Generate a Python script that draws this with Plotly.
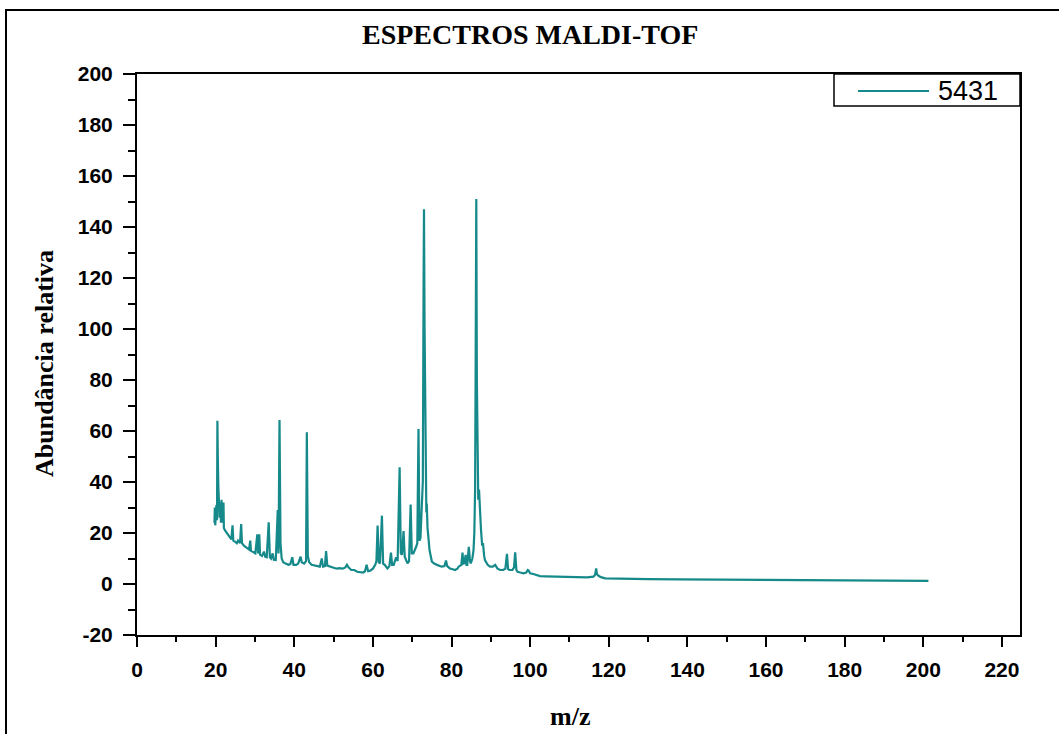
import plotly.graph_objects as go

# ---- data ----
MZ = [
    19.7, 19.8, 19.9, 20.0, 20.1, 20.2, 20.35, 20.45, 20.55, 20.7, 20.8, 20.9, 21.0, 21.2, 21.35,
    21.5, 21.6, 21.75, 21.9, 22.0, 22.1, 22.4, 22.8, 23.2, 23.6, 24.0, 24.3, 24.5, 25.0, 25.4,
    25.7, 26.2, 26.5, 26.7, 27.2, 27.6, 28.0, 28.5, 28.8, 29.0, 29.6, 30.1, 30.6, 30.8, 31.1,
    31.3, 31.8, 32.3, 32.6, 33.0, 33.5, 33.8, 34.1, 34.5, 34.8, 35.3, 35.8, 36.0, 36.25, 36.5,
    36.8, 37.2, 37.8, 38.5, 39.0, 39.5, 39.8, 40.5, 41.0, 41.3, 41.6, 41.9, 42.5, 43.0, 43.2,
    43.45, 43.8, 44.4, 45.0, 45.7, 46.5, 47.0, 47.3, 47.8, 48.1, 48.4, 49.0, 49.5, 50.2, 50.8,
    51.5, 52.3, 53.0, 53.4, 53.8, 54.5, 55.3, 56.0, 56.8, 57.5, 58.0, 58.4, 58.8, 59.3, 60.0,
    60.6, 60.9, 61.2, 61.5, 61.8, 62.3, 62.6, 63.0, 63.7, 64.2, 64.6, 64.9, 65.3, 65.9, 66.3,
    66.8, 67.1, 67.4, 67.8, 68.1, 68.8, 69.2, 69.6, 69.9, 70.3, 71.0, 71.3, 71.6, 71.85, 72.1,
    72.4, 72.7, 72.9, 73.0, 73.15, 73.4, 73.5, 73.6, 73.7, 73.9, 74.2, 74.4, 75.0, 75.6, 76.3,
    77.0, 77.5, 78.2, 78.6, 78.9, 79.6, 80.3, 80.9, 81.5, 81.8, 82.5, 82.8, 83.0, 83.2, 83.6,
    83.8, 84.0, 84.4, 84.7, 84.9, 85.3, 85.6, 85.8, 86.0, 86.15, 86.3, 86.45, 86.6, 86.8, 87.0,
    87.2, 87.5, 87.8, 88.0, 88.3, 88.5, 89.2, 89.8, 90.5, 91.1, 91.7, 92.4, 93.1, 93.7, 94.1,
    94.4, 94.7, 95.5, 95.9, 96.2, 96.5, 96.8, 97.5, 98.3, 99.0, 99.4, 99.6, 100.0, 100.8, 101.5,
    102.5, 104.0, 105.9, 107.6, 110.0, 112.7, 114.5, 116.1, 116.5, 116.8, 117.0, 117.4, 118.0, 119.1, 121.0,
    124.6, 130.0, 138.0, 150.0, 159.0, 165.0, 175.0, 189.0, 201.3,
]
ABUND = [
    24, 30, 23, 28, 24, 31, 25, 64, 50, 38, 28, 33, 26, 32, 24,
    33, 27, 31, 24, 32, 22, 21, 20, 19, 18, 17.5, 23, 17, 16.5, 16,
    17, 16, 23.5, 16, 15, 14.5, 14, 13.5, 17, 13, 12.5, 12, 19.5, 12, 19.5,
    11.5, 11, 12.7, 10.7, 10.5, 24.2, 10.5, 10, 12, 9.5, 9.4, 29, 12, 64.3, 16,
    10, 8.5, 8, 7.5, 7.8, 10.5, 7.5, 7.5, 8, 10, 10.7, 8.5, 8, 9, 59.5,
    11, 8.5, 7.5, 7.3, 6.8, 6.8, 10, 6.8, 7, 12.9, 7.2, 6.8, 6.5, 6.3, 6.0,
    6.2, 6.0, 6.5, 7.5, 6.5, 5.5, 5.5, 4.8, 4.5, 4.5, 5, 7.5, 5, 5.2, 6,
    7.5, 9, 22.9, 8.5, 8.1, 26.8, 8, 7.5, 6.1, 7, 12.3, 7.5, 7.5, 10.5, 9,
    45.8, 12, 11.5, 20.8, 10.7, 8.1, 9, 31.2, 12, 12, 14.6, 16, 60.8, 17, 18,
    26.4, 40, 120, 147, 100, 40, 32.3, 28, 31.6, 22, 17, 13.3, 8.8, 8, 7.5,
    7, 6.8, 7, 9.2, 7, 6.1, 5.8, 5.5, 6, 6.8, 7.5, 12.3, 8, 8.1, 11.4,
    7.5, 7.5, 14.6, 9, 8.1, 10, 13.3, 20, 36.9, 90, 151, 80, 40, 33, 37,
    27, 21.2, 15, 16, 11, 9.4, 7.5, 6.8, 6.8, 7.5, 6, 5.5, 5.5, 6, 11.8,
    5.8, 5.5, 5.5, 6.5, 12.4, 5.5, 4.8, 4.5, 4.2, 4.5, 5.5, 5.3, 4.2, 3.9, 3.5,
    3.1, 3.0, 2.9, 2.9, 2.7, 2.5, 2.6, 2.9, 3.5, 6.1, 3.8, 3.2, 2.7, 2.2, 2.1,
    2.0, 1.9, 1.8, 1.7, 1.8, 1.6, 1.5, 1.3, 1.2,
]
SERIES_NAME = "5431"
TITLE = "ESPECTROS MALDI-TOF"
X_TITLE = "m/z"
Y_TITLE = "Abundância relativa"
Y_TICKS = [-20, 0, 20, 40, 60, 80, 100, 120, 140, 160, 180, 200]
Y_TICK_TEXT = ["-20", "0", "20", "40", "60", "80", "100", "120", "140", "160", "180", "200"]

LINE_COLOR = "#168a8a"
W, H = 1059, 734
L, R, T, B = 137, 1020, 74, 635   # plot area in pixels


def px(xp):
    return (xp - L) / (R - L)


def py(yp):
    return (B - yp) / (B - T)


fig = go.Figure()
fig.add_trace(go.Scatter(x=MZ, y=ABUND, mode="lines", name=SERIES_NAME,
                         line=dict(color=LINE_COLOR, width=2.2), showlegend=False))

tickfont = dict(family="Liberation Sans, Arial", size=21, color="black", weight="bold")

fig.update_layout(
    width=W, height=H,
    margin=dict(l=L, r=W - R, t=T, b=H - B),
    paper_bgcolor="white", plot_bgcolor="white",
    xaxis=dict(range=[0, 224.6], tick0=0, dtick=20, ticks="outside", ticklen=10, tickwidth=2,
               tickcolor="black", showline=True, linecolor="black", linewidth=2, mirror=True,
               showgrid=False, zeroline=False, tickfont=tickfont, ticklabelstandoff=5,
               minor=dict(dtick=10, ticks="outside", ticklen=5, tickwidth=2, tickcolor="black")),
    yaxis=dict(range=[-20, 200], tickvals=Y_TICKS, ticktext=Y_TICK_TEXT,
               ticks="outside", ticklen=12, tickwidth=2,
               tickcolor="black", showline=True, linecolor="black", linewidth=2, mirror=True,
               showgrid=False, zeroline=False, tickfont=tickfont, ticklabelstandoff=6,
               minor=dict(dtick=10, tick0=0, ticks="outside", ticklen=7, tickwidth=2,
                          tickcolor="black")),
    showlegend=False,
)

serif_bold = dict(family="Liberation Serif, Times New Roman", color="black", weight="bold")

fig.add_annotation(text=TITLE, xref="paper", yref="paper", x=px(530), y=py(34),
                   xanchor="center", yanchor="middle",
                   showarrow=False, font=dict(size=28, **serif_bold))
fig.add_annotation(text=X_TITLE, xref="paper", yref="paper", x=px(570), y=py(716),
                   xanchor="center", yanchor="middle",
                   showarrow=False, font=dict(size=26, **serif_bold))
fig.add_annotation(text=Y_TITLE, xref="paper", yref="paper", x=px(45), y=py(364),
                   xanchor="center", yanchor="middle",
                   showarrow=False, textangle=-90, font=dict(size=26, **serif_bold))

# legend box drawn by hand (long sample line as in the reference)
fig.add_shape(type="rect", xref="paper", yref="paper", x0=px(834), x1=px(1020),
              y0=py(106), y1=py(74), line=dict(color="black", width=1.5), fillcolor="white")
fig.add_shape(type="line", xref="paper", yref="paper", x0=px(858), x1=px(929),
              y0=py(91), y1=py(91), line=dict(color=LINE_COLOR, width=2))
fig.add_annotation(text=SERIES_NAME, xref="paper", yref="paper", x=px(936), y=py(91),
                   xanchor="left", yanchor="middle", showarrow=False,
                   font=dict(family="Liberation Sans, Arial", size=27, color="black"))

# outer frame of the picture
fig.add_shape(type="rect", xref="paper", yref="paper", x0=px(6), x1=px(1070),
              y0=py(760), y1=py(10), line=dict(color="black", width=2), layer="below")

fig.write_html("out.html")
